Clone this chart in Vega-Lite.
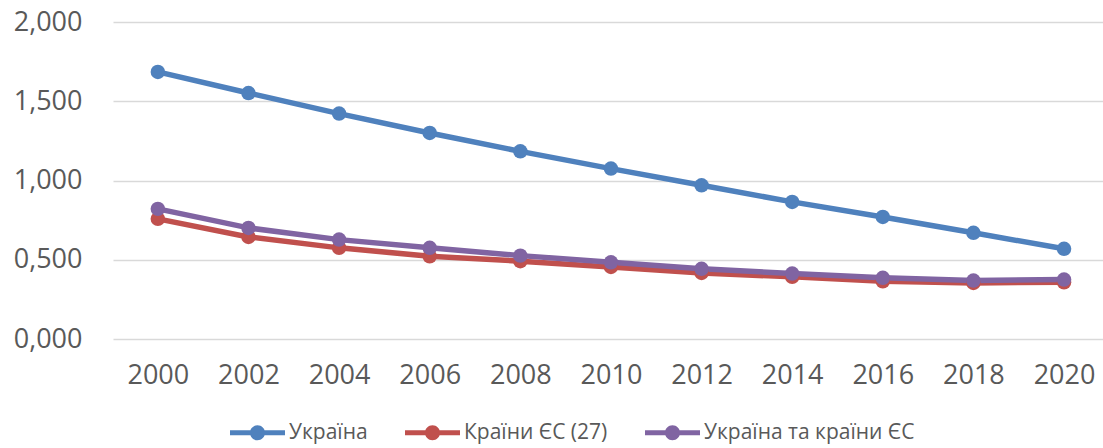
{
  "$schema": "https://vega.github.io/schema/vega-lite/v6.json",
  "width": 990,
  "height": 317,
  "autosize": "none",
  "padding": {"left": 113, "top": 22, "right": 0, "bottom": 109},
  "background": "white",
  "config": {
    "view": {"stroke": null},
    "font": "Open Sans",
    "axis": {"labelFont": "Open Sans", "labelColor": "#595959"},
    "legend": {"labelFont": "Open Sans"}
  },
  "data": {
    "values": [
      {"year": 2000, "series": "Україна", "value": 1.685},
      {"year": 2002, "series": "Україна", "value": 1.552},
      {"year": 2004, "series": "Україна", "value": 1.422},
      {"year": 2006, "series": "Україна", "value": 1.300},
      {"year": 2008, "series": "Україна", "value": 1.184},
      {"year": 2010, "series": "Україна", "value": 1.075},
      {"year": 2012, "series": "Україна", "value": 0.970},
      {"year": 2014, "series": "Україна", "value": 0.865},
      {"year": 2016, "series": "Україна", "value": 0.770},
      {"year": 2018, "series": "Україна", "value": 0.670},
      {"year": 2020, "series": "Україна", "value": 0.569},
      {"year": 2000, "series": "Країни ЄС (27)", "value": 0.758},
      {"year": 2002, "series": "Країни ЄС (27)", "value": 0.644},
      {"year": 2004, "series": "Країни ЄС (27)", "value": 0.575},
      {"year": 2006, "series": "Країни ЄС (27)", "value": 0.522},
      {"year": 2008, "series": "Країни ЄС (27)", "value": 0.491},
      {"year": 2010, "series": "Країни ЄС (27)", "value": 0.455},
      {"year": 2012, "series": "Країни ЄС (27)", "value": 0.417},
      {"year": 2014, "series": "Країни ЄС (27)", "value": 0.392},
      {"year": 2016, "series": "Країни ЄС (27)", "value": 0.364},
      {"year": 2018, "series": "Країни ЄС (27)", "value": 0.354},
      {"year": 2020, "series": "Країни ЄС (27)", "value": 0.358},
      {"year": 2000, "series": "Україна та країни ЄС", "value": 0.821},
      {"year": 2002, "series": "Україна та країни ЄС", "value": 0.701},
      {"year": 2004, "series": "Україна та країни ЄС", "value": 0.627},
      {"year": 2006, "series": "Україна та країни ЄС", "value": 0.575},
      {"year": 2008, "series": "Україна та країни ЄС", "value": 0.526},
      {"year": 2010, "series": "Україна та країни ЄС", "value": 0.484},
      {"year": 2012, "series": "Україна та країни ЄС", "value": 0.443},
      {"year": 2014, "series": "Україна та країни ЄС", "value": 0.413},
      {"year": 2016, "series": "Україна та країни ЄС", "value": 0.386},
      {"year": 2018, "series": "Україна та країни ЄС", "value": 0.369},
      {"year": 2020, "series": "Україна та країни ЄС", "value": 0.375}
    ]
  },
  "mark": {"type": "line", "strokeWidth": 5.5, "point": {"filled": true, "size": 210, "opacity": 1}},
  "encoding": {
    "x": {
      "field": "year", "type": "quantitative",
      "scale": {"domain": [1999.01, 2020.86], "nice": false, "zero": false},
      "axis": {
        "title": null, "values": [2000, 2002, 2004, 2006, 2008, 2010, 2012, 2014, 2016, 2018, 2020],
        "format": "d", "grid": false, "domain": false, "ticks": false, "tickSize": 0,
        "labelFontSize": 27, "labelPadding": 23, "labelFlush": false
      }
    },
    "y": {
      "field": "value", "type": "quantitative",
      "scale": {"domain": [0, 2], "nice": false},
      "axis": {
        "title": null, "values": [0, 0.5, 1, 1.5, 2],
        "labelExpr": "replace(format(datum.value, '.3f'), '.', ',')",
        "grid": true, "gridColor": "#d9d9d9", "gridWidth": 1.5,
        "domain": false, "ticks": false, "tickSize": 0,
        "labelFontSize": 27, "labelPadding": 31
      }
    },
    "color": {
      "field": "series", "type": "nominal",
      "scale": {
        "domain": ["Україна", "Країни ЄС (27)", "Україна та країни ЄС"],
        "range": ["#4F81BD", "#C0504D", "#8064A2"]
      },
      "legend": {
        "title": null,
        "orient": "none",
        "direction": "horizontal",
        "legendX": 117,
        "legendY": 383,
        "padding": 0,
        "symbolType": "M-1,-0.09 H1 V0.09 H-1 Z M0.273,0 A0.273,0.273 0 1,1 -0.273,0 A0.273,0.273 0 1,1 0.273,0 Z",
        "symbolSize": 3025,
        "symbolStrokeWidth": 0,
        "labelFontSize": 21,
        "labelColor": "#595959",
        "labelOffset": 4,
        "labelLimit": 0,
        "columnPadding": 37,
        "encode": {
          "symbols": {
            "update": {
              "fill": {"scale": "color", "field": "value"},
              "strokeWidth": {"value": 0},
              "opacity": {"value": 1}
            }
          }
        }
      }
    }
  }
}
